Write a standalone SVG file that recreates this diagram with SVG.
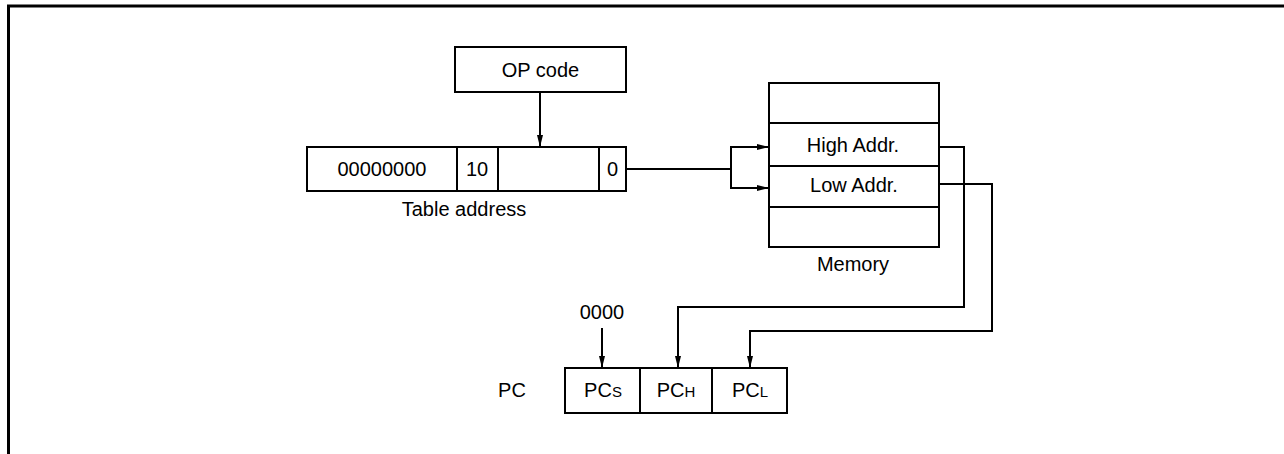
<svg xmlns="http://www.w3.org/2000/svg" width="1284" height="454" viewBox="0 0 1284 454">
<style>
.box{fill:#fff;stroke:#000;stroke-width:2}
.ln{fill:none;stroke:#000;stroke-width:2}
.t{font-family:"Liberation Sans",Arial,sans-serif;font-size:20px;fill:#000;text-anchor:middle}
.s{font-size:15px}
</style>
<defs>
<marker id="ah" viewBox="0 0 12 6" refX="12" refY="3" markerWidth="12" markerHeight="6" markerUnits="userSpaceOnUse" orient="auto">
<path d="M0,0 L12,3 L0,6 Z" fill="#000"/>
</marker>
</defs>
<rect width="1284" height="454" fill="#fff"/>
<g id="frame">
<line x1="7" y1="6" x2="1284" y2="6" stroke="#000" stroke-width="3"/>
<line x1="8.5" y1="5" x2="8.5" y2="454" stroke="#000" stroke-width="3"/>
</g>
<g id="opcode">
<rect class="box" x="455" y="47" width="171" height="45"/>
<text class="t" x="540.5" y="77">OP code</text>
</g>
<g id="table">
<rect class="box" x="307" y="147" width="319" height="44"/>
<line class="ln" x1="457" y1="147" x2="457" y2="191"/>
<line class="ln" x1="498" y1="147" x2="498" y2="191"/>
<line class="ln" x1="599" y1="147" x2="599" y2="191"/>
<text class="t" x="382" y="176">00000000</text>
<text class="t" x="477" y="176">10</text>
<text class="t" x="612.5" y="176">0</text>
<text class="t" x="464" y="216">Table address</text>
</g>
<g id="memory">
<rect class="box" x="769" y="83" width="170" height="164"/>
<line class="ln" x1="769" y1="123" x2="939" y2="123"/>
<line class="ln" x1="769" y1="166" x2="939" y2="166"/>
<line class="ln" x1="769" y1="207" x2="939" y2="207"/>
<text class="t" x="853" y="152">High Addr.</text>
<text class="t" x="854" y="192">Low Addr.</text>
<text class="t" x="853" y="271">Memory</text>
</g>
<g id="pc">
<text class="t" x="512" y="397">PC</text>
<rect class="box" x="565" y="368" width="222" height="45"/>
<line class="ln" x1="640" y1="368" x2="640" y2="413"/>
<line class="ln" x1="712" y1="368" x2="712" y2="413"/>
<text class="t" x="603" y="397">PC<tspan class="s">S</tspan></text>
<text class="t" x="676" y="397">PC<tspan class="s">H</tspan></text>
<text class="t" x="750" y="397">PC<tspan class="s">L</tspan></text>
<text class="t" x="602" y="319">0000</text>
</g>
<g id="connectors">
<line class="ln" x1="540" y1="92" x2="540" y2="147" marker-end="url(#ah)"/>
<polyline class="ln" points="626,169 731,169"/>
<polyline class="ln" points="769,147 731,147 731,188 769,188" marker-end="url(#ah)"/>
<line class="ln" x1="731" y1="147" x2="769" y2="147" marker-end="url(#ah)"/>
<polyline class="ln" points="939,147 964,147 964,307 678,307 678,368" marker-end="url(#ah)"/>
<polyline class="ln" points="939,184 992,184 992,331 750,331 750,368" marker-end="url(#ah)"/>
<line class="ln" x1="602" y1="328" x2="602" y2="368" marker-end="url(#ah)"/>
</g>
</svg>
